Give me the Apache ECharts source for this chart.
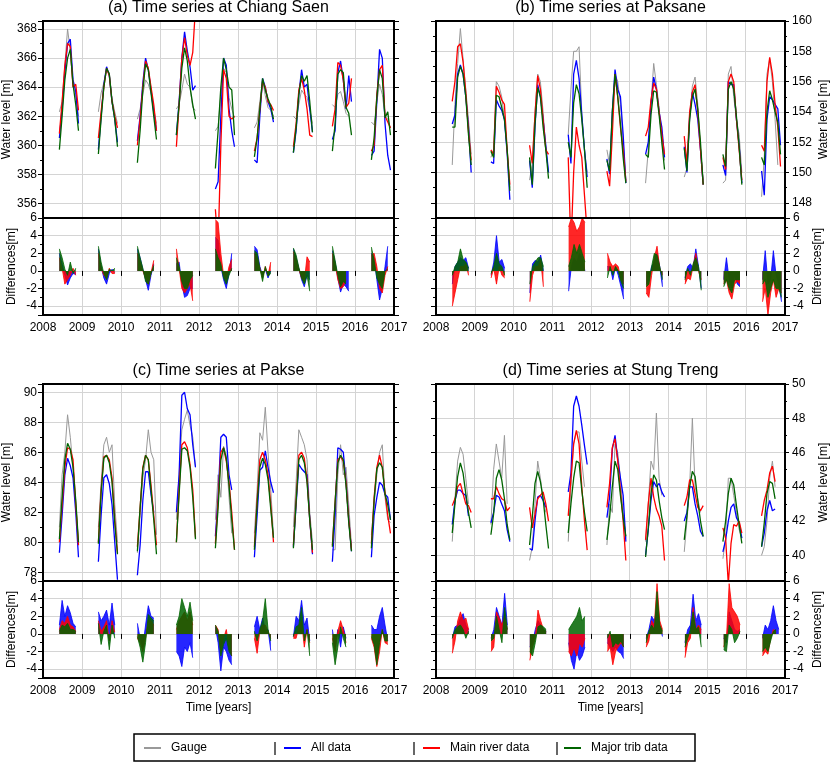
<!DOCTYPE html>
<html>
<head>
<meta charset="utf-8">
<script src="https://cdn.jsdelivr.net/npm/echarts@6/dist/echarts.min.js"></script>
<style>
    html, body { margin: 0; padding: 0; background: #fff; }
    #chart { width: 831px; height: 763px; }
</style>
</head>
<body>
<div id="chart"></div>
<script>
// 每年一段（6月-12月），每段8个采样点
var years = [2008, 2009, 2010, 2011, 2012, 2013, 2014, 2015, 2016];
var offsets = [0.42, 0.49, 0.56, 0.63, 0.70, 0.77, 0.84, 0.91];
var yearTicks = ['2008', '2009', '2010', '2011', '2012', '2013', '2014', '2015', '2016', '2017'];
var legendNames = ['Gauge', 'All data', 'Main river data', 'Major trib data'];

// (a) Chiang Saen
var csGauge = [
    362.3, 363.0, 365.5, 368.0, 366.5, 364.0, 363.5, 362.0,
    362.3, 363.6, 364.3, 365.2, 365.0, 363.2, 362.3, 361.5,
    361.8, 362.5, 363.5, 364.5, 364.2, 363.6, 362.5, 361.5,
    362.5, 362.8, 363.8, 364.9, 364.2, 364.0, 362.6, 362.4,
    361.0, 361.3, 363.5, 365.3, 365.0, 363.3, 362.5, 361.9,
    361.2, 361.6, 363.0, 364.5, 363.4, 362.6, 362.4, 362.0,
    362.0, 361.8, 362.8, 363.8, 363.5, 363.3, 362.5, 361.5,
    362.8, 362.6, 363.5, 363.7, 363.0, 362.2, 362.0, null,
    361.6, 361.4, 363.0, 364.2, 363.5, 362.0, 361.8, 361.2
];
var csAll = [
    360.5, 362.5, 365.0, 367.0, 367.3, 364.5, 363.7, 361.5,
    359.7, 362.0, 364.2, 365.4, 364.8, 363.0, 361.8, 360.2,
    360.3, 362.0, 364.3, 366.0, 365.2, 363.8, 362.3, 361.0,
    360.7, 363.0, 366.0, 367.8, 366.5, 365.4, 363.8, 364.1,
    357.0, 357.5, 362.0, 366.0, 365.5, 362.5, 361.0, 359.9,
    359.0, 358.8, 362.0, 364.6, 364.0, 363.0, 362.5, 361.6,
    359.5, 361.0, 363.5, 365.2, 364.0, 364.2, 362.5, 360.9,
    360.4, 361.0, 365.0, 365.8, 364.5, 362.5, 364.8, 363.0,
    359.3, 359.6, 363.0, 366.6, 366.0, 361.5, 359.3, 358.3
];
var csMain = [
    360.8, 363.0, 365.5, 367.0, 366.8, 364.0, 364.2, 362.4,
    360.5, 362.3, 364.0, 365.3, 364.8, 363.0, 362.0, 361.2,
    360.0, 361.8, 364.0, 365.8, 365.3, 364.0, 362.8, 361.0,
    359.9, 362.8, 366.0, 367.4, 366.2, 365.5, 366.4, 369.5,
    355.6, 353.0, 360.0, 365.2, 364.6, 362.0, 361.8, 362.0,
    359.6, 360.5, 362.5, 364.4, 364.0, 363.0, 362.8, 362.4,
    359.9, 361.5, 363.8, 364.6, 363.8, 362.5, 360.7, 360.6,
    361.3, 362.5, 365.7, 365.5, 364.5, 362.6, 362.9, 364.6,
    359.6, 360.0, 363.5, 365.2, 365.5, 362.0, 361.6, 361.2
];
var csTrib = [
    359.7, 362.0, 364.5, 366.0, 366.6, 364.2, 362.8, 361.0,
    359.4, 361.8, 364.0, 365.3, 364.9, 363.0, 361.8, 359.9,
    358.8, 361.0, 363.8, 365.6, 365.2, 363.6, 362.0, 360.4,
    360.7, 362.8, 365.3, 366.7, 365.8, 364.0, 362.8, 361.8,
    358.4, 361.0, 364.0, 366.0, 365.2, 364.0, 363.8, 360.7,
    359.2, 360.5, 362.5, 364.6, 363.8, 363.2, 362.7, 361.8,
    359.5, 361.2, 363.5, 364.8, 364.4, 364.8, 363.0, 360.9,
    359.6, 361.5, 364.9, 365.2, 365.0, 362.6, 362.2, 360.7,
    359.0, 360.5, 363.3, 365.2, 364.6, 361.9, 362.3, 360.7
];
var csDAll = [
    2.0, 0.8, -0.5, -1.6, -0.8, -0.3, -0.4, null,
    2.5, 0.5, -0.8, -1.5, -0.3, 0.2, -0.2, null,
    2.5, 1.5, 0.2, -1.0, -2.2, -0.5, 0.8, null,
    0.8, 1.0, -1.5, -3.0, -2.8, -2.0, -2.0, null,
    3.8, 3.5, 0.5, -1.0, -2.0, -0.3, 2.0, null,
    2.8, 2.4, 0.5, -0.5, 0.2, -0.8, 0.0, null,
    2.5, 1.5, 0.3, -1.0, -1.8, -0.5, -1.0, null,
    2.3, 1.0, -0.8, -2.4, -1.5, -1.8, -2.3, null,
    2.0, 1.5, -1.0, -3.3, -2.0, 0.5, 2.8, null
];
var csDMain = [
    1.5, 0.3, -1.5, -1.0, -0.5, 0.3, -0.5, null,
    2.0, 0.3, -0.5, -0.8, 0.3, -0.3, -0.3, null,
    2.0, 1.0, 0.0, -0.8, -1.5, -0.2, 1.2, null,
    2.5, 0.3, -2.0, -2.5, -2.0, -1.5, -3.4, null,
    5.8, 5.5, 2.0, -0.5, -1.0, 0.5, 1.3, null,
    2.0, 1.5, 0.3, -0.8, 0.5, -0.5, 1.0, null,
    2.2, 1.3, 0.2, -0.8, -1.2, 1.6, 1.0, null,
    2.0, 0.8, -1.0, -2.0, -1.8, -1.0, null, null,
    1.8, 2.0, 0.5, -2.0, -2.5, -0.5, 0.5, null
];
var csDTrib = [
    2.5, 1.5, 0.2, -0.5, 1.0, -0.3, 0.3, null,
    2.8, 1.0, -0.3, -1.0, 0.2, 0.0, 0.3, null,
    2.8, 1.5, 0.3, -1.2, -1.5, -0.3, 0.6, null,
    1.5, 0.5, -1.2, -2.0, -2.0, -1.0, -0.5, null,
    2.5, 1.5, 0.8, -0.8, -1.5, -0.5, 0.3, null,
    2.3, 2.0, 0.3, -1.2, 0.5, -0.6, -0.3, null,
    2.6, 1.8, 0.4, -0.8, -1.5, -0.5, -2.3, null,
    2.8, 1.2, -0.5, -1.8, -1.2, -1.5, null, null,
    2.7, 1.2, -0.8, -1.5, -2.0, 0.0, 0.2, null
];

// (b) Paksane
var pkGauge = [
    150.5, 154.5, 157.2, 159.5, 157.5, 155.5, 153.5, 151.2,
    151.0, 151.5, 156.0, 155.7, 155.0, 153.5, 151.5, 149.0,
    149.5, 150.6, 154.0, 156.5, 156.0, 154.0, 151.5, 150.0,
    152.5, 155.5, 158.0, 158.0, 158.3, 154.0, 151.5, 150.0,
    151.5, 150.5, 153.5, 156.5, 156.0, 154.5, 152.0, 149.5,
    149.3, 151.5, 154.5, 157.2, 155.8, 154.3, 152.0, 150.8,
    149.7, 150.3, 153.5, 155.7, 156.3, 154.5, 151.5, 149.5,
    149.3, 149.5, 156.5, 157.0, 155.0, 153.5, 152.5, 150.0,
    148.4, 151.0, 156.5, 157.5, 156.0, 153.5, 150.5, null
];
var pkAll = [
    153.2, 153.8, 156.5, 157.1, 156.5, 155.0, 153.0, 150.0,
    150.7, 150.6, 154.8, 154.4, 154.1, 153.5, 151.3, 148.2,
    150.8, 149.0, 153.0, 155.8, 155.0, 153.5, 151.8, 150.0,
    152.5, 150.6, 156.5, 157.4, 156.2, 153.8, 151.5, 149.7,
    150.9, 149.9, 154.0, 156.8, 155.5, 155.0, 152.5, 149.3,
    151.2, 152.0, 154.5, 156.3, 155.5, 154.0, 153.0, 151.0,
    151.7, 150.0, 153.7, 155.3, 154.5, 153.5, 151.5, 149.2,
    150.5, 149.8, 156.0, 155.8, 155.8, 153.5, 151.8, 149.3,
    150.1, 148.5, 153.5, 155.0, 154.8, 154.5, 154.2, 151.8
];
var pkMain = [
    154.7, 156.0, 158.3, 158.5, 157.3, 155.3, 152.7, 150.8,
    151.5, 151.2, 155.7, 155.3, 154.8, 154.5, 151.5, 149.2,
    151.8, 150.6, 153.8, 156.4, 155.5, 153.5, 151.5, 151.2,
    151.0, 145.0, 150.0, 153.0, 151.8, 151.0, 148.5, 146.0,
    150.1, 149.1, 152.5, 156.5, 155.0, 153.0, 151.5, 149.4,
    152.4, 153.0, 154.8, 155.9, 155.5, 154.0, 152.5, 151.2,
    152.4, 150.6, 154.0, 155.3, 155.8, 154.0, 151.5, 149.2,
    151.0, 150.2, 156.0, 156.5, 156.0, 153.5, 151.5, 149.5,
    151.8, 151.4, 156.0, 157.6, 156.5, 154.5, 153.0, 150.4
];
var pkTrib = [
    153.0, 153.0, 156.3, 157.0, 156.5, 155.0, 152.5, 150.5,
    151.4, 151.0, 155.1, 155.0, 154.3, 153.5, 151.5, 148.8,
    151.0, 149.2, 153.2, 155.6, 155.0, 153.0, 151.5, 149.6,
    152.0, 151.0, 154.6, 155.8, 155.2, 153.5, 151.5, 149.0,
    150.8, 150.1, 154.0, 156.5, 155.0, 153.2, 151.0, 149.3,
    151.2, 151.0, 153.8, 155.4, 155.3, 153.8, 152.0, 150.2,
    151.6, 150.1, 153.5, 155.0, 155.5, 154.2, 152.0, 149.2,
    151.2, 150.4, 155.5, 156.0, 155.5, 153.7, 151.7, 149.2,
    151.0, 150.5, 154.0, 155.4, 154.8, 154.0, 153.3, 151.2
];
var pkDAll = [
    -1.5, 0.5, 1.0, 1.5, 1.2, 1.5, 0.3, null,
    -0.5, 1.0, 4.0, 1.0, 1.3, 0.3, null, null,
    -2.5, 0.8, 1.2, 1.0, 1.8, 0.0, null, null,
    -2.3, 0.5, 1.5, 1.0, 2.0, 1.5, 0.0, null,
    0.5, 0.5, -1.0, 0.5, -0.5, -1.8, -3.2, null,
    -1.5, -1.0, 0.5, 1.0, 2.0, 0.5, -1.8, null,
    -0.8, 0.5, 0.8, 0.3, 2.5, 0.5, -2.0, null,
    -1.0, 1.5, -1.0, -2.0, -0.5, -1.5, -1.8, null,
    -1.0, 2.3, -1.5, -1.0, 2.3, -0.5, -1.5, -3.5
];
var pkDMain = [
    -4.0, -2.5, -1.0, 0.5, 0.5, 0.8, -0.5, null,
    -0.8, 0.3, -1.5, 0.5, -0.5, -0.8, null, null,
    -3.5, -0.5, 0.5, 0.5, 1.2, -1.8, null, null,
    5.0, 6.0, 5.5, 4.5, 5.0, 6.0, 5.5, null,
    2.0, 1.0, 0.5, 0.8, 0.5, -1.0, -1.5, null,
    -2.5, -3.0, -0.5, 1.5, 2.8, 0.3, -0.5, null,
    -1.5, -0.8, -1.0, 0.5, 2.0, 0.0, -1.0, null,
    -1.5, -1.0, -2.5, -3.2, -1.5, -1.2, -1.5, null,
    -3.5, -2.0, -5.0, -2.5, -1.0, -3.0, -2.0, -2.5
];
var pkDTrib = [
    -0.5, 0.5, 1.0, 2.5, 1.3, 1.0, 0.3, null,
    -0.3, 0.5, 2.0, 0.8, 0.5, -0.5, null, null,
    -1.5, 0.5, 1.0, 1.5, 1.5, 0.5, null, null,
    0.5, 1.5, 3.0, 2.0, 3.0, 2.0, 1.0, null,
    -0.8, 0.5, -0.5, 0.5, 0.0, -1.2, -2.0, null,
    -1.8, -1.5, 0.5, 2.0, 1.8, 0.5, -1.0, null,
    -1.0, 0.3, -0.5, 0.8, 1.5, 0.5, -2.2, null,
    -1.8, -1.0, -2.0, -2.5, -1.0, -1.0, -1.0, null,
    -1.5, -1.0, -3.0, -2.0, -1.0, -2.0, -2.0, -3.0
];

// (c) Pakse
var paGauge = [
    81.0, 84.5, 86.0, 88.5, 87.0, 85.0, 82.5, 80.0,
    81.0, 84.0, 86.5, 87.0, 86.0, 86.5, 82.5, 80.0,
    79.3, 81.8, 84.3, 85.5, 87.5, 86.0, 85.5, 80.5,
    81.5, 84.5, 87.5, 88.2, 88.8, 87.8, 87.0, 85.0,
    81.5, 84.5, 83.0, 86.4, 85.8, 83.0, 80.6, null,
    80.6, 83.5, 87.3, 86.8, 89.0, 86.0, 83.5, 80.5,
    81.0, 84.0, 87.5, 87.0, 86.5, 85.5, 82.0, 80.0,
    79.5, 79.5, 84.5, 86.5, 84.5, 85.0, 82.5, 79.8,
    80.5, 82.5, 84.5, 86.0, 86.5, 83.0, 81.5, 81.3
];
var paAll = [
    79.3, 81.8, 84.5, 85.6, 85.1, 84.3, 82.0, 79.0,
    78.7, 81.8, 84.3, 84.5, 83.9, 82.5, 80.0, 77.5,
    77.8, 79.8, 82.8, 84.7, 84.7, 83.2, 82.0, null,
    82.0, 84.5, 89.8, 90.0, 88.9, 88.5, 86.5, 85.0,
    80.4, 83.0, 87.0, 87.2, 87.0, 84.5, 83.5, null,
    79.0, 81.8, 84.8, 85.0, 86.1, 85.0, 84.0, 83.3,
    79.7, 82.5, 85.2, 84.9, 84.7, 84.5, 81.5, 79.2,
    78.7, 81.8, 86.3, 86.2, 86.0, 84.0, 81.5, 79.4,
    79.0, 81.8, 83.0, 84.0, 83.8, 83.2, 83.0, 81.5
];
var paMain = [
    80.0, 82.5, 85.0, 86.3, 86.2, 85.5, 82.5, 79.8,
    80.0, 83.5, 85.7, 85.8, 85.5, 84.3, 81.5, 79.3,
    79.7, 82.3, 85.0, 85.8, 85.5, 83.8, 81.8, 79.8,
    80.0, 83.5, 86.5, 86.7, 86.3, 85.2, 83.5, 80.3,
    79.9, 82.8, 86.0, 86.3, 85.4, 84.0, 82.0, 79.5,
    79.7, 82.8, 85.5, 86.0, 85.5, 84.5, 82.5, 80.0,
    79.8, 82.8, 85.8, 86.0, 85.6, 84.2, 81.5, 79.3,
    79.8, 82.7, 85.5, 85.7, 85.4, 84.0, 81.5, 79.5,
    79.9, 83.0, 85.0, 85.8, 85.0, 83.3, 81.8, 80.6
];
var paTrib = [
    80.2, 83.0, 85.5, 86.6, 86.2, 85.0, 82.8, 80.0,
    79.9, 83.3, 85.6, 85.8, 85.3, 84.0, 81.3, 79.2,
    79.4, 82.3, 84.9, 85.8, 85.5, 83.5, 81.5, 79.2,
    80.0, 83.2, 86.2, 86.3, 86.1, 85.0, 83.0, 80.2,
    79.6, 82.3, 85.5, 86.3, 85.6, 83.8, 81.5, 79.5,
    79.5, 82.5, 85.0, 85.6, 85.2, 84.2, 82.2, 80.3,
    79.6, 82.7, 85.5, 85.8, 85.3, 84.0, 81.5, 79.5,
    79.7, 82.7, 85.3, 85.8, 85.5, 83.8, 81.3, 79.4,
    79.6, 82.8, 84.9, 85.3, 85.0, 83.2, 82.5, 81.5
];
var paDAll = [
    1.0, 3.8, 2.0, 3.2, 2.4, 1.2, 0.8, null,
    2.5, 1.5, 2.0, 2.7, 1.0, 3.5, 1.0, null,
    1.2, -0.5, -1.5, 1.0, 3.2, 2.0, 1.8, null,
    -2.0, -2.5, -3.7, -1.5, -2.0, -1.0, -2.7, null,
    0.8, -1.0, -4.2, -1.5, -2.0, -3.0, -3.5, null,
    0.8, 2.0, 0.5, 1.8, 0.5, 0.5, -1.9, null,
    -0.3, 2.0, 1.5, 3.8, 1.0, 1.8, -0.8, null,
    0.5, -1.5, 0.5, -1.5, 0.8, -0.5, null, null,
    1.0, 0.5, 0.5, 2.0, 3.0, 1.0, -0.8, null
];
var paDMain = [
    0.5, 1.5, 1.2, 2.0, 1.0, 0.8, 0.3, null,
    1.5, 0.3, 0.8, 1.5, -0.8, 1.5, 0.2, null,
    -0.5, -1.0, -2.0, -0.5, 1.5, 1.5, 1.0, null,
    0.5, 1.5, 2.0, 2.5, 1.5, 2.5, 1.0, null,
    1.0, 0.5, -2.0, -0.5, 0.5, -1.5, -2.5, null,
    -0.5, -2.2, 0.3, 1.0, 1.0, 0.3, -0.5, null,
    -0.5, -0.5, 0.8, 1.5, -1.5, 0.5, -1.0, null,
    -0.5, -2.0, 0.3, 1.5, 0.5, -1.0, null, null,
    -0.5, -1.5, -3.7, -2.0, 0.5, -1.0, -1.2, null
];
var paDTrib = [
    0.3, 1.0, 0.8, 1.2, 0.5, 0.5, 0.3, null,
    1.2, -1.2, 0.3, 1.0, -1.8, 1.0, -0.5, null,
    -0.3, -1.5, -3.2, -1.0, 2.2, 1.8, 1.5, null,
    1.0, 2.0, 4.0, 3.0, 2.0, 3.6, 1.5, null,
    1.0, 0.3, -2.5, -1.2, -0.5, -2.0, -2.5, null,
    0.3, -0.8, 0.5, 1.5, 4.0, 0.5, -0.8, null,
    -0.3, 0.8, 1.0, 3.0, -0.8, 0.5, -2.5, null,
    -1.0, -3.5, -1.5, 0.8, -0.5, -1.5, null, null,
    -0.3, -1.2, -3.5, -1.0, 0.5, -0.8, -0.8, null
];

// (d) Stung Treng
var stGauge = [
    40.8, 43.3, 45.5, 46.3, 45.9, 44.5, 43.0, null,
    41.8, 45.0, 46.5, 45.5, 44.5, 47.0, 43.0, null,
    39.7, 40.5, 43.0, 45.5, 44.5, 43.3, 42.5, null,
    40.8, 44.0, 46.5, 47.2, 47.2, 45.5, 44.0, null,
    40.6, 43.0, 42.5, 46.5, 46.0, 44.5, 42.5, 41.0,
    40.8, 43.0, 45.5, 45.0, 48.3, 44.5, 43.5, null,
    40.2, 42.0, 44.0, 48.0, 44.0, 43.3, 42.5, null,
    39.8, 41.0, 44.5, 44.5, 43.5, 42.5, 41.5, 41.0,
    40.0, 40.5, 42.0, 44.5, 45.5, 44.0, null, null
];
var stAll = [
    41.8, 43.2, 43.8, 43.8, 43.6, 43.5, 42.3, null,
    41.9, 42.5, 43.5, 43.4, 43.0, 42.6, 41.5, 40.8,
    40.4, 40.3, 42.0, 43.4, 43.5, 43.2, 42.8, null,
    43.7, 44.8, 48.7, 49.3, 48.7, 47.6, 46.4, 45.3,
    42.2, 43.4, 46.2, 47.0, 45.6, 44.5, 43.5, 40.8,
    40.0, 41.5, 43.2, 44.3, 44.0, 44.2, 43.7, 43.4,
    42.0, 42.5, 44.0, 44.0, 43.0, 42.3, 41.4, 41.1,
    40.2, 40.9, 42.0, 42.8, 43.0, 42.2, 41.9, 41.0,
    40.5, 41.3, 42.6, 43.2, 42.6, 42.7, null, null
];
var stMain = [
    42.9, 43.3, 44.0, 44.2, 43.6, 43.0, 42.9, 42.5,
    43.3, 43.3, 44.0, 43.6, 43.3, 43.2, 42.6, 42.8,
    42.8, 41.6, 42.4, 43.3, 43.5, 43.7, 43.0, 42.0,
    42.3, 44.5, 46.5, 47.3, 46.5, 44.0, 42.0, 40.3,
    42.8, 44.2, 46.3, 46.8, 45.5, 43.8, 42.0, 39.7,
    40.9, 43.0, 44.5, 43.4, 42.7, 42.3, 41.7, 39.7,
    42.9, 43.4, 44.4, 44.4, 43.6, 42.8, 42.6, 42.9,
    41.6, 41.0, 38.3, 40.7, 41.8, 41.7, 42.0, 41.3,
    42.3, 43.2, 43.8, 44.8, 45.2, 44.3, null, null
];
var stTrib = [
    41.3, 43.0, 44.6, 45.4, 44.8, 43.6, 42.5, 41.6,
    41.2, 42.4, 44.5, 45.0, 44.4, 43.3, 41.8, 40.9,
    40.6, 42.2, 44.2, 44.9, 44.3, 43.3, 41.8, 40.4,
    41.3, 43.0, 44.5, 45.5, 45.4, 43.8, 42.5, 41.4,
    40.9, 42.2, 44.0, 45.5, 45.0, 43.5, 42.2, 41.1,
    39.9, 41.6, 43.6, 44.7, 44.4, 43.2, 42.2, 41.5,
    40.9, 42.3, 44.0, 44.9, 44.6, 43.2, 42.0, 41.1,
    40.8, 42.0, 43.6, 44.5, 44.1, 42.9, 41.8, 40.7,
    40.5, 41.9, 43.6, 44.3, 44.2, 43.3, null, null
];
var stDAll = [
    -0.5, 0.8, 1.0, 1.8, 2.3, 1.0, 0.5, null,
    -0.5, 0.5, 3.0, 2.0, 1.0, 4.6, 1.0, null,
    -1.5, -1.0, 0.5, 1.5, 1.0, 0.5, 0.3, null,
    -1.0, -3.0, -4.0, -2.0, -3.0, -2.5, -1.5, null,
    -1.0, -1.5, -2.0, -1.5, -2.0, -2.2, -2.8, null,
    -0.5, 0.5, 2.0, 1.5, 2.5, 1.0, -0.3, null,
    -1.0, 0.5, 1.0, 4.5, 1.5, 2.3, 1.0, null,
    -0.5, -1.0, 2.5, 1.5, 0.5, 0.3, 0.5, null,
    -0.5, 1.0, 0.5, 1.5, 3.2, 1.5, 0.5, null
];
var stDMain = [
    -2.2, -0.8, 1.5, 2.5, 1.5, 1.8, 0.5, null,
    -2.0, -1.5, 2.5, 1.8, 1.0, 2.0, 0.5, null,
    -3.0, -1.5, -0.5, 2.7, 1.5, 0.5, 0.3, null,
    -2.0, -2.5, -1.5, -2.5, -1.0, -1.5, -0.5, null,
    -2.0, -1.5, -3.5, -2.0, -1.5, -1.0, -1.5, null,
    -1.5, -0.8, 1.5, 1.0, 5.7, 1.5, 0.5, null,
    -2.7, -1.0, -0.5, 3.0, 0.5, 1.0, 0.5, null,
    -1.5, -0.5, 5.7, 3.0, 2.5, 2.0, 1.0, null,
    -2.5, -2.0, -2.3, -0.5, 0.5, 0.3, null, null
];
var stDTrib = [
    -0.5, 0.5, 0.8, 1.0, 0.5, -0.5, 0.3, null,
    -0.8, -0.5, 2.0, 0.5, -1.0, 3.0, 0.5, null,
    -2.0, -2.5, -1.0, 0.8, 1.0, 0.8, 0.5, null,
    0.5, 1.0, 1.5, 2.0, 3.0, 1.5, 2.0, null,
    -0.5, 0.3, -1.5, -1.0, -1.2, -0.8, -1.5, null,
    -1.0, 0.3, 1.0, 0.5, 4.8, 1.0, 0.3, null,
    -1.5, -0.5, 0.5, 2.5, 0.5, 0.8, -1.5, null,
    -1.8, -2.0, 1.0, 0.5, -1.0, -0.5, 0.3, null,
    -2.0, -1.5, -2.0, -0.8, 0.3, 0.5, null, null
];

var FONT = '"Liberation Sans", Arial, Helvetica, sans-serif';
var GRIDLINE = '#d4d4d4';
var colors = ['#999999', '#0000ff', '#ff0000', '#006400'];

var panels = [
    { title: '(a) Time series at Chiang Saen', left: 43, top: 21, width: 351, side: 'left',
      ymin: 355, ymax: 368.55, showMax: false, xName: '',
      lines: [csGauge, csAll, csMain, csTrib], diffs: [csDAll, csDMain, csDTrib] },
    { title: '(b) Time series at Paksane', left: 436, top: 21, width: 349, side: 'right',
      ymin: 147, ymax: 160, showMax: true, xName: '',
      lines: [pkGauge, pkAll, pkMain, pkTrib], diffs: [pkDAll, pkDMain, pkDTrib] },
    { title: '(c) Time series at Pakse', left: 43, top: 384, width: 351, side: 'left',
      ymin: 77.42, ymax: 90.55, showMax: false, xName: 'Time [years]',
      lines: [paGauge, paAll, paMain, paTrib], diffs: [paDAll, paDMain, paDTrib] },
    { title: '(d) Time series at Stung Treng', left: 436, top: 384, width: 349, side: 'right',
      ymin: 38.5, ymax: 50, showMax: true, xName: 'Time [years]',
      lines: [stGauge, stAll, stMain, stTrib], diffs: [stDAll, stDMain, stDTrib] }
];
var TOP_H = 197, BOT_H = 97;

// 每年一段，段之间用空值断开
function seg(vals) {
    var out = [];
    years.forEach(function (y, i) {
        offsets.forEach(function (o, j) {
            out.push([y + o, vals[i * offsets.length + j]]);
        });
        out.push([y + 0.96, null]);
    });
    return out;
}

var txt = { fontSize: 12, color: '#000', fontFamily: FONT };
var grids = [], xAxes = [], yAxes = [], series = [], graphics = [];

function addY(g, side, min, max, opts) {
    var tick = { show: true, length: 5, lineStyle: { color: '#000' } };
    var minor = { show: true, splitNumber: 2, length: 3, lineStyle: { color: '#000' } };
    yAxes.push({
        type: 'value', gridIndex: g, position: side, min: min, max: max, splitNumber: 6,
        axisLine: { show: false }, axisTick: tick, minorTick: minor,
        axisLabel: { margin: side === 'left' ? 6 : 8, fontSize: 12, color: '#000', fontFamily: FONT,
                     showMinLabel: false, showMaxLabel: opts.showMax },
        splitLine: { show: true, lineStyle: { color: GRIDLINE } },
        name: opts.name, nameLocation: 'middle', nameRotate: 90, nameGap: opts.gap,
        nameTextStyle: txt
    });
    // 另一侧只画刻度
    yAxes.push({
        type: 'value', gridIndex: g, position: side === 'left' ? 'right' : 'left',
        min: min, max: max, splitNumber: 6,
        axisLine: { show: false }, axisTick: tick, minorTick: minor,
        axisLabel: { show: false }, splitLine: { show: false }
    });
}

panels.forEach(function (p, k) {
    var gTop = 2 * k, gBot = 2 * k + 1;
    var right = p.side === 'right';
    grids.push({ left: p.left, top: p.top, width: p.width, height: TOP_H });
    grids.push({ left: p.left, top: p.top + TOP_H, width: p.width, height: BOT_H });

    xAxes.push({ type: 'value', gridIndex: gTop, min: 2008, max: 2017, interval: 1,
                 axisLine: { show: false }, axisTick: { show: false }, axisLabel: { show: false },
                 splitLine: { show: true, lineStyle: { color: GRIDLINE } } });
    xAxes.push({ type: 'value', gridIndex: gBot, min: 2008, max: 2017, interval: 1,
                 axisLine: { show: false },
                 axisTick: { show: true, length: 5, lineStyle: { color: '#000' } },
                 axisLabel: { margin: 7, fontSize: 12, color: '#000', fontFamily: FONT,
                              formatter: function (v) { return yearTicks[Math.round(v) - 2008]; } },
                 splitLine: { show: true, lineStyle: { color: GRIDLINE } },
                 name: p.xName, nameLocation: 'middle', nameGap: 24, nameTextStyle: txt });

    addY(gTop, p.side, p.ymin, p.ymax, { name: 'Water level [m]', gap: right ? 34 : 30, showMax: p.showMax });
    addY(gBot, p.side, -5, 6, { name: 'Differences[m]', gap: right ? 27 : 25, showMax: true });

    p.lines.forEach(function (arr, i) {
        series.push({
            type: 'line', name: legendNames[i], xAxisIndex: gTop, yAxisIndex: 2 * gTop,
            data: seg(arr), showSymbol: false, symbol: 'none', connectNulls: false,
            lineStyle: { color: colors[i], width: i === 0 ? 1 : 1.3 },
            itemStyle: { color: colors[i] }, z: 2 + i
        });
    });
    p.diffs.forEach(function (arr, i) {
        series.push({
            type: 'line', name: legendNames[i + 1], xAxisIndex: gBot, yAxisIndex: 2 * gBot,
            data: seg(arr), showSymbol: false, symbol: 'none', connectNulls: false,
            lineStyle: { color: colors[i + 1], width: 0.8 },
            areaStyle: { color: colors[i + 1], opacity: 0.85 },
            itemStyle: { color: colors[i + 1] }, z: 3 + i
        });
    });

    // 黑色边框画在最上层
    graphics.push({ type: 'rect', z: 100,
                    shape: { x: p.left, y: p.top, width: p.width, height: TOP_H },
                    style: { fill: null, stroke: '#000', lineWidth: 2 } });
    graphics.push({ type: 'rect', z: 100,
                    shape: { x: p.left, y: p.top + TOP_H, width: p.width, height: BOT_H },
                    style: { fill: null, stroke: '#000', lineWidth: 2 } });
    graphics.push({ type: 'text', x: p.left + p.width / 2, y: p.top - 13,
                    style: { text: p.title, font: '16px ' + FONT, fill: '#000',
                             align: 'center', verticalAlign: 'middle' } });
});

// 图例
var legendX = [144, 284, 423, 564];
var sepX = [275, 414, 557];
graphics.push({ type: 'rect', shape: { x: 134, y: 734, width: 561, height: 27 },
                style: { fill: '#fff', stroke: '#000', lineWidth: 1.5 } });
legendNames.forEach(function (n, i) {
    graphics.push({ type: 'line', shape: { x1: legendX[i], y1: 748, x2: legendX[i] + 17, y2: 748 },
                    style: { stroke: colors[i], lineWidth: 2 } });
    graphics.push({ type: 'text', x: legendX[i] + 27, y: 748,
                    style: { text: n, font: '12px ' + FONT, fill: '#000', verticalAlign: 'middle' } });
});
sepX.forEach(function (x) {
    graphics.push({ type: 'line', shape: { x1: x, y1: 742, x2: x, y2: 755 },
                    style: { stroke: '#000', lineWidth: 1.2 } });
});

var chart = echarts.init(document.getElementById('chart'));
chart.setOption({
    animation: false,
    backgroundColor: '#fff',
    textStyle: { fontFamily: FONT },
    grid: grids,
    xAxis: xAxes,
    yAxis: yAxes,
    series: series,
    graphic: graphics
});
</script>
</body>
</html>
